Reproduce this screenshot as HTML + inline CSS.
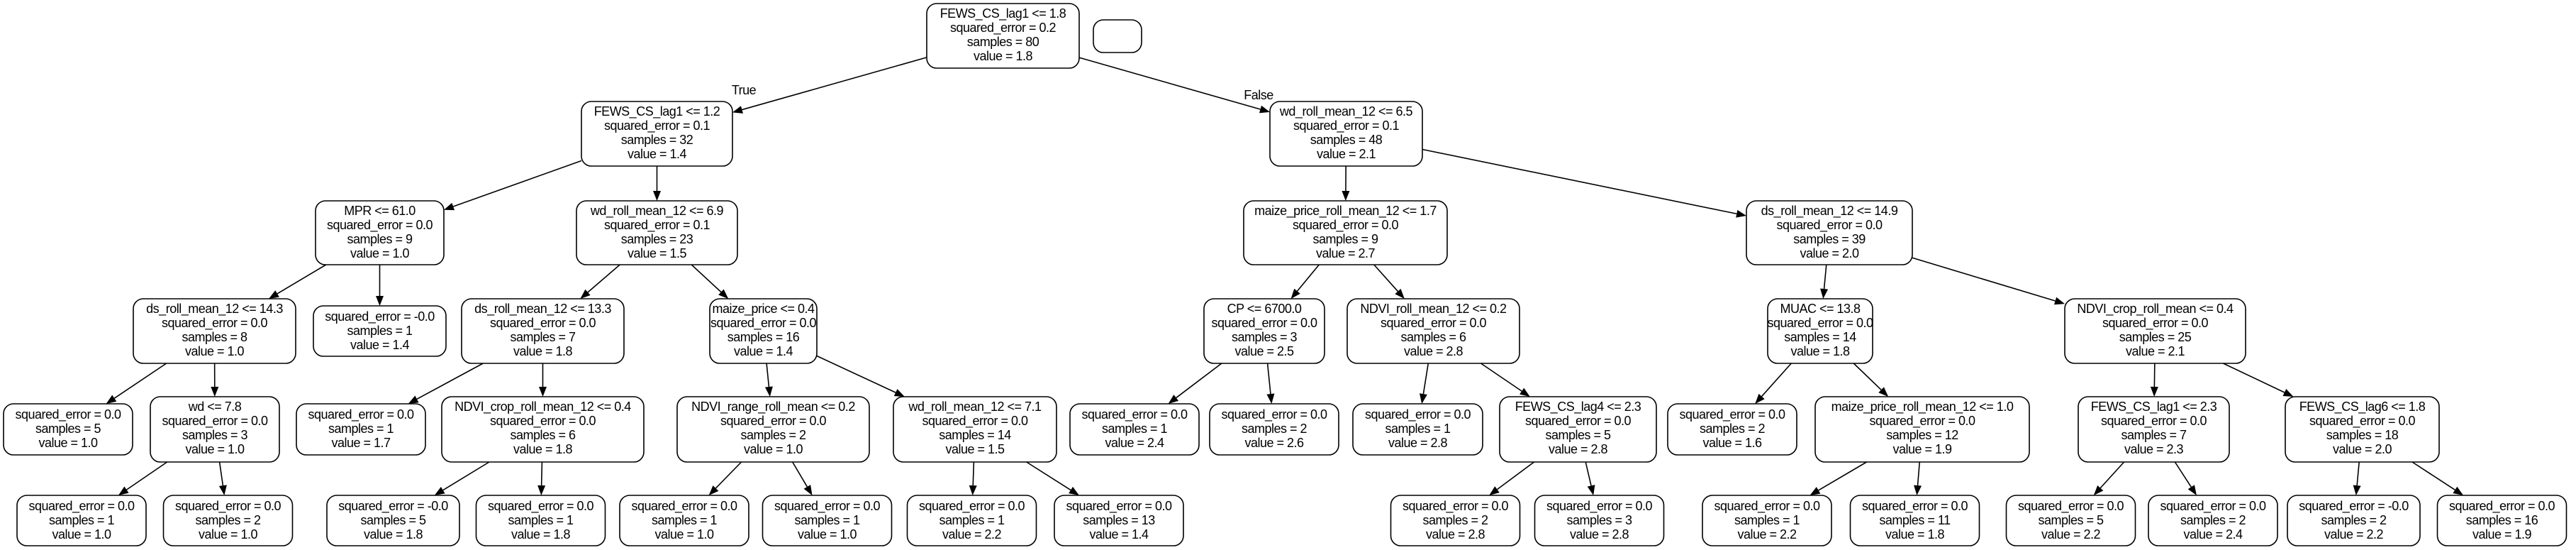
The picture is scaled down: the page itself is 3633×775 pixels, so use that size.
<!DOCTYPE html>
<html><head><meta charset="utf-8">
<style>
html,body{margin:0;padding:0;background:#fff;}
svg{display:block;}
text{font-family:"Liberation Sans",Arial,sans-serif;font-size:18px;fill:#000;text-anchor:middle;letter-spacing:-0.5px;}
rect{fill:#fff;stroke:#000;stroke-width:1.6;}
</style></head>
<body>
<svg id="s" width="3633" height="775" viewBox="0 0 3633 775" xmlns="http://www.w3.org/2000/svg">
<g id="edges"></g>

<rect id="r0" x="1307" y="5" width="215" height="91" rx="14"/>
<text x="1414.5" y="25">FEWS_CS_lag1 &lt;= 1.8</text><text x="1414.5" y="45">squared_error = 0.2</text><text x="1414.5" y="65">samples = 80</text><text x="1414.5" y="85">value = 1.8</text>
<rect x="1542" y="28" width="68" height="46" rx="14"/>

<text x="1049" y="133">True</text>
<text x="1775" y="140">False</text>

<rect id="A" x="820" y="143" width="213" height="91" rx="14"/>
<text x="926.5" y="163">FEWS_CS_lag1 &lt;= 1.2</text><text x="926.5" y="183">squared_error = 0.1</text><text x="926.5" y="203">samples = 32</text><text x="926.5" y="223">value = 1.4</text>
<rect id="B" x="1791" y="143" width="215" height="91" rx="14"/>
<text x="1898.5" y="163">wd_roll_mean_12 &lt;= 6.5</text><text x="1898.5" y="183">squared_error = 0.1</text><text x="1898.5" y="203">samples = 48</text><text x="1898.5" y="223">value = 2.1</text>

<rect id="C" x="445" y="283" width="181" height="90" rx="14"/>
<text x="535.5" y="303">MPR &lt;= 61.0</text><text x="535.5" y="323">squared_error = 0.0</text><text x="535.5" y="343">samples = 9</text><text x="535.5" y="363">value = 1.0</text>
<rect id="D" x="813" y="283" width="227" height="90" rx="14"/>
<text x="926.5" y="303">wd_roll_mean_12 &lt;= 6.9</text><text x="926.5" y="323">squared_error = 0.1</text><text x="926.5" y="343">samples = 23</text><text x="926.5" y="363">value = 1.5</text>
<rect id="E" x="1754" y="283" width="287" height="90" rx="14"/>
<text x="1897.5" y="303">maize_price_roll_mean_12 &lt;= 1.7</text><text x="1897.5" y="323">squared_error = 0.0</text><text x="1897.5" y="343">samples = 9</text><text x="1897.5" y="363">value = 2.7</text>
<rect id="F" x="2463" y="283" width="234" height="90" rx="14"/>
<text x="2580" y="303">ds_roll_mean_12 &lt;= 14.9</text><text x="2580" y="323">squared_error = 0.0</text><text x="2580" y="343">samples = 39</text><text x="2580" y="363">value = 2.0</text>

<rect id="G" x="188" y="421" width="229" height="91" rx="14"/>
<text x="302.5" y="441">ds_roll_mean_12 &lt;= 14.3</text><text x="302.5" y="461">squared_error = 0.0</text><text x="302.5" y="481">samples = 8</text><text x="302.5" y="501">value = 1.0</text>
<rect id="H" x="442" y="431" width="187" height="71" rx="14"/>
<text x="535.5" y="452">squared_error = -0.0</text><text x="535.5" y="472">samples = 1</text><text x="535.5" y="492">value = 1.4</text>
<rect id="I" x="651" y="421" width="229" height="91" rx="14"/>
<text x="765.5" y="441">ds_roll_mean_12 &lt;= 13.3</text><text x="765.5" y="461">squared_error = 0.0</text><text x="765.5" y="481">samples = 7</text><text x="765.5" y="501">value = 1.8</text>
<rect id="J" x="1001" y="421" width="151" height="91" rx="14"/>
<text x="1076.5" y="441">maize_price &lt;= 0.4</text><text x="1076.5" y="461">squared_error = 0.0</text><text x="1076.5" y="481">samples = 16</text><text x="1076.5" y="501">value = 1.4</text>
<rect id="K" x="1698" y="421" width="170" height="91" rx="14"/>
<text x="1783" y="441">CP &lt;= 6700.0</text><text x="1783" y="461">squared_error = 0.0</text><text x="1783" y="481">samples = 3</text><text x="1783" y="501">value = 2.5</text>
<rect id="L" x="1900" y="421" width="243" height="91" rx="14"/>
<text x="2021.5" y="441">NDVI_roll_mean_12 &lt;= 0.2</text><text x="2021.5" y="461">squared_error = 0.0</text><text x="2021.5" y="481">samples = 6</text><text x="2021.5" y="501">value = 2.8</text>
<rect id="M" x="2493" y="421" width="148" height="91" rx="14"/>
<text x="2567" y="441">MUAC &lt;= 13.8</text><text x="2567" y="461">squared_error = 0.0</text><text x="2567" y="481">samples = 14</text><text x="2567" y="501">value = 1.8</text>
<rect id="N" x="2912" y="421" width="255" height="91" rx="14"/>
<text x="3039.5" y="441">NDVI_crop_roll_mean &lt;= 0.4</text><text x="3039.5" y="461">squared_error = 0.0</text><text x="3039.5" y="481">samples = 25</text><text x="3039.5" y="501">value = 2.1</text>

<rect id="O" x="5" y="569" width="182" height="72" rx="14"/>
<text x="96" y="590">squared_error = 0.0</text><text x="96" y="610">samples = 5</text><text x="96" y="630">value = 1.0</text>
<rect id="P" x="212" y="559" width="182" height="92" rx="14"/>
<text x="303" y="579">wd &lt;= 7.8</text><text x="303" y="599">squared_error = 0.0</text><text x="303" y="619">samples = 3</text><text x="303" y="639">value = 1.0</text>
<rect id="Q" x="418" y="569" width="182" height="72" rx="14"/>
<text x="509" y="590">squared_error = 0.0</text><text x="509" y="610">samples = 1</text><text x="509" y="630">value = 1.7</text>
<rect id="R" x="623" y="559" width="285" height="92" rx="14"/>
<text x="765.5" y="579">NDVI_crop_roll_mean_12 &lt;= 0.4</text><text x="765.5" y="599">squared_error = 0.0</text><text x="765.5" y="619">samples = 6</text><text x="765.5" y="639">value = 1.8</text>
<rect id="S" x="955" y="559" width="271" height="92" rx="14"/>
<text x="1090.5" y="579">NDVI_range_roll_mean &lt;= 0.2</text><text x="1090.5" y="599">squared_error = 0.0</text><text x="1090.5" y="619">samples = 2</text><text x="1090.5" y="639">value = 1.0</text>
<rect id="T" x="1260" y="559" width="230" height="92" rx="14"/>
<text x="1375" y="579">wd_roll_mean_12 &lt;= 7.1</text><text x="1375" y="599">squared_error = 0.0</text><text x="1375" y="619">samples = 14</text><text x="1375" y="639">value = 1.5</text>
<rect id="U" x="1509" y="569" width="182" height="72" rx="14"/>
<text x="1600" y="590">squared_error = 0.0</text><text x="1600" y="610">samples = 1</text><text x="1600" y="630">value = 2.4</text>
<rect id="V" x="1706" y="569" width="182" height="72" rx="14"/>
<text x="1797" y="590">squared_error = 0.0</text><text x="1797" y="610">samples = 2</text><text x="1797" y="630">value = 2.6</text>
<rect id="W" x="1908" y="569" width="183" height="72" rx="14"/>
<text x="1999.5" y="590">squared_error = 0.0</text><text x="1999.5" y="610">samples = 1</text><text x="1999.5" y="630">value = 2.8</text>
<rect id="X" x="2115" y="559" width="221" height="92" rx="14"/>
<text x="2225.5" y="579">FEWS_CS_lag4 &lt;= 2.3</text><text x="2225.5" y="599">squared_error = 0.0</text><text x="2225.5" y="619">samples = 5</text><text x="2225.5" y="639">value = 2.8</text>
<rect id="Y" x="2352" y="569" width="182" height="72" rx="14"/>
<text x="2443" y="590">squared_error = 0.0</text><text x="2443" y="610">samples = 2</text><text x="2443" y="630">value = 1.6</text>
<rect id="Z" x="2560" y="559" width="302" height="92" rx="14"/>
<text x="2711" y="579">maize_price_roll_mean_12 &lt;= 1.0</text><text x="2711" y="599">squared_error = 0.0</text><text x="2711" y="619">samples = 12</text><text x="2711" y="639">value = 1.9</text>
<rect id="AA" x="2931" y="559" width="213" height="92" rx="14"/>
<text x="3037.5" y="579">FEWS_CS_lag1 &lt;= 2.3</text><text x="3037.5" y="599">squared_error = 0.0</text><text x="3037.5" y="619">samples = 7</text><text x="3037.5" y="639">value = 2.3</text>
<rect id="AB" x="3223" y="559" width="217" height="92" rx="14"/>
<text x="3331.5" y="579">FEWS_CS_lag6 &lt;= 1.8</text><text x="3331.5" y="599">squared_error = 0.0</text><text x="3331.5" y="619">samples = 18</text><text x="3331.5" y="639">value = 2.0</text>

<rect id="b1" x="24" y="698" width="182" height="71" rx="14"/>
<text x="115" y="719">squared_error = 0.0</text><text x="115" y="739">samples = 1</text><text x="115" y="759">value = 1.0</text>
<rect id="b2" x="230.5" y="698" width="182" height="71" rx="14"/>
<text x="321.5" y="719">squared_error = 0.0</text><text x="321.5" y="739">samples = 2</text><text x="321.5" y="759">value = 1.0</text>
<rect id="b3" x="461" y="698" width="187" height="71" rx="14"/>
<text x="554.5" y="719">squared_error = -0.0</text><text x="554.5" y="739">samples = 5</text><text x="554.5" y="759">value = 1.8</text>
<rect id="b4" x="671.5" y="698" width="182" height="71" rx="14"/>
<text x="762.5" y="719">squared_error = 0.0</text><text x="762.5" y="739">samples = 1</text><text x="762.5" y="759">value = 1.8</text>
<rect id="b5" x="874" y="698" width="182" height="71" rx="14"/>
<text x="965" y="719">squared_error = 0.0</text><text x="965" y="739">samples = 1</text><text x="965" y="759">value = 1.0</text>
<rect id="b6" x="1075.5" y="698" width="182" height="71" rx="14"/>
<text x="1166.5" y="719">squared_error = 0.0</text><text x="1166.5" y="739">samples = 1</text><text x="1166.5" y="759">value = 1.0</text>
<rect id="b7" x="1279.5" y="698" width="182" height="71" rx="14"/>
<text x="1370.5" y="719">squared_error = 0.0</text><text x="1370.5" y="739">samples = 1</text><text x="1370.5" y="759">value = 2.2</text>
<rect id="b8" x="1487" y="698" width="182" height="71" rx="14"/>
<text x="1578" y="719">squared_error = 0.0</text><text x="1578" y="739">samples = 13</text><text x="1578" y="759">value = 1.4</text>
<rect id="b9" x="1961.5" y="698" width="182" height="71" rx="14"/>
<text x="2052.5" y="719">squared_error = 0.0</text><text x="2052.5" y="739">samples = 2</text><text x="2052.5" y="759">value = 2.8</text>
<rect id="b10" x="2164.5" y="698" width="182" height="71" rx="14"/>
<text x="2255.5" y="719">squared_error = 0.0</text><text x="2255.5" y="739">samples = 3</text><text x="2255.5" y="759">value = 2.8</text>
<rect id="b11" x="2401" y="698" width="182" height="71" rx="14"/>
<text x="2492" y="719">squared_error = 0.0</text><text x="2492" y="739">samples = 1</text><text x="2492" y="759">value = 2.2</text>
<rect id="b12" x="2609.5" y="698" width="182" height="71" rx="14"/>
<text x="2700.5" y="719">squared_error = 0.0</text><text x="2700.5" y="739">samples = 11</text><text x="2700.5" y="759">value = 1.8</text>
<rect id="b13" x="2829.5" y="698" width="182" height="71" rx="14"/>
<text x="2920.5" y="719">squared_error = 0.0</text><text x="2920.5" y="739">samples = 5</text><text x="2920.5" y="759">value = 2.2</text>
<rect id="b14" x="3030" y="698" width="182" height="71" rx="14"/>
<text x="3121" y="719">squared_error = 0.0</text><text x="3121" y="739">samples = 2</text><text x="3121" y="759">value = 2.4</text>
<rect id="b15" x="3226" y="698" width="187" height="71" rx="14"/>
<text x="3319.5" y="719">squared_error = -0.0</text><text x="3319.5" y="739">samples = 2</text><text x="3319.5" y="759">value = 2.2</text>
<rect id="b16" x="3437.5" y="698" width="182" height="71" rx="14"/>
<text x="3528.5" y="719">squared_error = 0.0</text><text x="3528.5" y="739">samples = 16</text><text x="3528.5" y="759">value = 1.9</text>
</svg>
<script>
(function(){
var E=[["r0","A"],["r0","B"],["A","C"],["A","D"],["C","G"],["C","H"],["G","O"],["G","P"],["P","b1"],["P","b2"],
["D","I"],["D","J"],["I","Q"],["I","R"],["R","b3"],["R","b4"],["J","S"],["J","T"],["S","b5"],["S","b6"],["T","b7"],["T","b8"],
["B","E"],["B","F"],["E","K"],["E","L"],["K","U"],["K","V"],["L","W"],["L","X"],["X","b9"],["X","b10"],
["F","M"],["F","N"],["M","Y"],["M","Z"],["Z","b11"],["Z","b12"],["N","AA"],["N","AB"],["AA","b13"],["AA","b14"],["AB","b15"],["AB","b16"]];
var NS="http://www.w3.org/2000/svg",g=document.getElementById("edges");
function box(id){var r=document.getElementById(id);var x=+r.getAttribute("x"),y=+r.getAttribute("y"),w=+r.getAttribute("width"),h=+r.getAttribute("height");return {cx:x+w/2,cy:y+h/2,hw:w/2,hh:h/2};}
function clip(b,dx,dy){var t=Infinity;if(dx!==0)t=Math.min(t,b.hw/Math.abs(dx));if(dy!==0)t=Math.min(t,b.hh/Math.abs(dy));return t;}
E.forEach(function(e){
var p=box(e[0]),c=box(e[1]);var dx=c.cx-p.cx,dy=c.cy-p.cy;
var t0=clip(p,dx,dy),t1=1-clip(c,dx,dy);
var x0=p.cx+dx*t0,y0=p.cy+dy*t0,x1=p.cx+dx*t1,y1=p.cy+dy*t1;
var L=Math.hypot(x1-x0,y1-y0),ux=(x1-x0)/L,uy=(y1-y0)/L;
var al=14,aw=5.5;var bx=x1-ux*al,by=y1-uy*al;
var ln=document.createElementNS(NS,"line");
ln.setAttribute("x1",x0);ln.setAttribute("y1",y0);ln.setAttribute("x2",bx);ln.setAttribute("y2",by);
ln.setAttribute("stroke","#000");ln.setAttribute("stroke-width","1.6");g.appendChild(ln);
var pg=document.createElementNS(NS,"polygon");
pg.setAttribute("points",x1+","+y1+" "+(bx-uy*aw)+","+(by+ux*aw)+" "+(bx+uy*aw)+","+(by-ux*aw));
pg.setAttribute("fill","#000");g.appendChild(pg);
});
})();
</script>
</body></html>
